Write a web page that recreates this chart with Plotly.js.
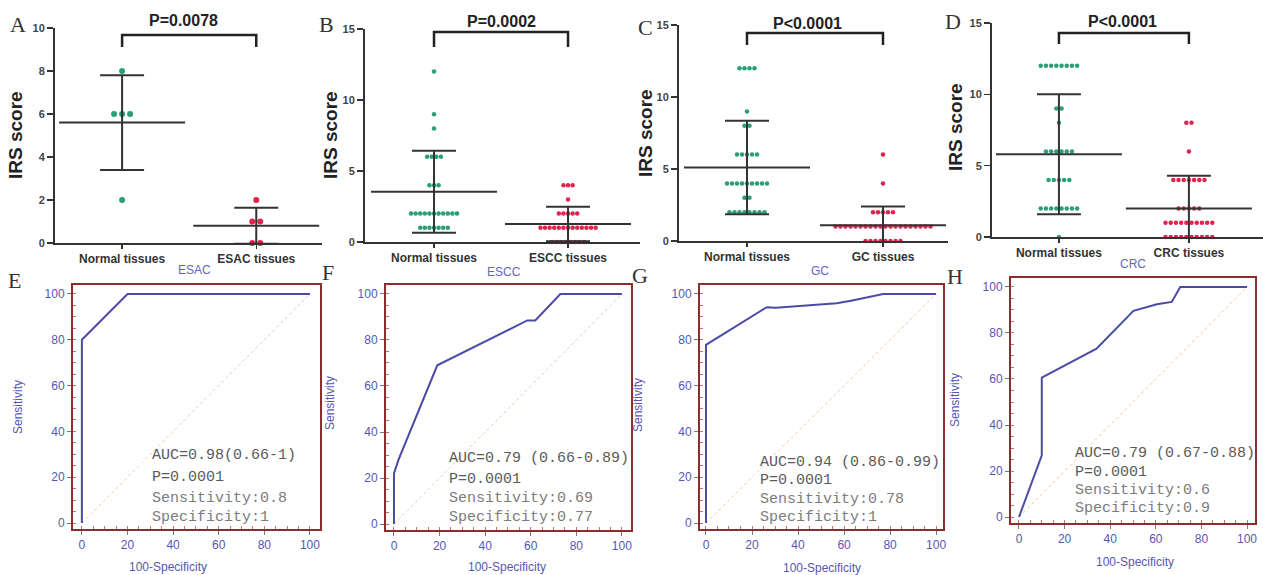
<!DOCTYPE html>
<html>
<head>
<meta charset="utf-8">
<script src="https://cdn.plot.ly/plotly-3.0.1.min.js"></script>
<style>
html, body { margin: 0; padding: 0; background: #fff; }
#chart { width: 1263px; height: 575px; }
</style>
</head>
<body>
<div id="chart"></div>
<script>
// ---------- IRS scores (value levels and number of samples at each level) ----------
const groupTicks = [
  ['Normal tissues', 'ESAC tissues'],
  ['Normal tissues', 'ESCC tissues'],
  ['Normal tissues', 'GC tissues'],
  ['Normal tissues', 'CRC tissues']
];
const pLabels = ['P=0.0078', 'P=0.0002', 'P<0.0001', 'P<0.0001'];

const esacNormalScores = [8, 6, 2];
const esacNormalCounts = [1, 3, 1];
const esacTumorScores  = [2, 1, 0];
const esacTumorCounts  = [1, 2, 2];
const esacMeans = [5.6, 0.8];
const esacSDs   = [2.2, 0.84];

const esccNormalScores = [12, 9, 8, 6, 4, 2, 1];
const esccNormalCounts = [1, 1, 1, 4, 3, 11, 7];
const esccTumorScores  = [4, 3, 2, 1, 0];
const esccTumorCounts  = [3, 1, 5, 13, 8];
const esccMeans = [3.54, 1.27];
const esccSDs   = [2.89, 1.22];

const gcNormalScores = [12, 9, 8, 6, 4, 3, 2];
const gcNormalCounts = [4, 1, 2, 5, 9, 2, 8];
const gcTumorScores  = [6, 4, 2, 1, 0];
const gcTumorCounts  = [1, 1, 5, 20, 8];
const gcMeans = [5.1, 1.1];
const gcSDs   = [3.25, 1.3];

const crcNormalScores = [12, 9, 8, 6, 4, 2, 0];
const crcNormalCounts = [8, 2, 1, 6, 5, 8, 1];
const crcTumorScores  = [8, 6, 4, 2, 1, 0];
const crcTumorCounts  = [2, 1, 7, 5, 10, 10];
const crcMeans = [5.8, 2.0];
const crcSDs   = [4.2, 2.3];

// ---------- ROC curves (100-Specificity vs Sensitivity) ----------
const rocTitles = ['ESAC', 'ESCC', 'GC', 'CRC'];
const esacFpr = [0, 0, 20, 100];
const esacTpr = [0, 80, 100, 100];
const esccFpr = [0, 0, 2, 19, 58.5, 62, 73, 100];
const esccTpr = [0, 22, 28, 69, 88.5, 88.5, 100, 100];
const gcFpr = [0, 0, 26.4, 30.4, 56.8, 63, 77, 100];
const gcTpr = [0, 77.8, 94.2, 94, 95.9, 97, 100, 100];
const crcFpr = [0, 10, 10, 34, 50.2, 60.5, 67, 70.7, 100];
const crcTpr = [0, 26.8, 60.6, 73.2, 89.6, 92.5, 93.5, 100, 100];

const rocStats = [
  ['AUC=0.98(0.66-1)', 'P=0.0001', 'Sensitivity:0.8', 'Specificity:1'],
  ['AUC=0.79 (0.66-0.89)', 'P=0.0001', 'Sensitivity:0.69', 'Specificity:0.77'],
  ['AUC=0.94 (0.86-0.99)', 'P=0.0001', 'Sensitivity:0.78', 'Specificity:1'],
  ['AUC=0.79 (0.67-0.88)', 'P=0.0001', 'Sensitivity:0.6', 'Specificity:0.9']
];

// ---------- page geometry ----------
const W = 1263, H = 575;
const fx = p => p / W;
const fy = p => 1 - p / H;

const scatterPanels = [
  { normal: [esacNormalScores, esacNormalCounts], tumor: [esacTumorScores, esacTumorCounts], means: esacMeans, sds: esacSDs,
    x0: 55, x1: 322, top: 28, bot: 243, ymax: 10, dtick: 2, xr: [-0.5, 1.49], catPx: 134,
    brTop: 35, brBot: 47, pX: 183, pY: 20, tX: 15, tY: 135, letter: 'A', lX: 18, lY: 24, dot: 6, step: 8 },
  { normal: [esccNormalScores, esccNormalCounts], tumor: [esccTumorScores, esccTumorCounts], means: esccMeans, sds: esccSDs,
    x0: 365, x1: 640, top: 29, bot: 242, ymax: 15, dtick: 5, xr: [-0.515, 1.537], catPx: 134,
    brTop: 32, brBot: 47, pX: 502, pY: 22, tX: 330, tY: 135, letter: 'B', lX: 327, lY: 25, dot: 4.5, step: 4.6 },
  { normal: [gcNormalScores, gcNormalCounts], tumor: [gcTumorScores, gcTumorCounts], means: gcMeans, sds: gcSDs,
    x0: 679, x1: 948, top: 25, bot: 241, ymax: 15, dtick: 5, xr: [-0.5, 1.478], catPx: 136,
    brTop: 33, brBot: 45, pX: 807, pY: 23, tX: 645, tY: 133, letter: 'C', lX: 645, lY: 27, dot: 4.5, step: 5 },
  { normal: [crcNormalScores, crcNormalCounts], tumor: [crcTumorScores, crcTumorCounts], means: crcMeans, sds: crcSDs,
    x0: 992, x1: 1263, top: 23, bot: 237, ymax: 15, dtick: 5, xr: [-0.515, 1.57], catPx: 130,
    brTop: 33, brBot: 44, pX: 1122, pY: 22, tX: 955, tY: 127, letter: 'D', lX: 953, lY: 22, dot: 4.5, step: 5.2 }
];

const rocPanels = [
  { fpr: esacFpr, tpr: esacTpr, x0: 73, x1: 320, top: 285, bot: 529, xr: [-3.9, 104.4],
    tX: 150, tY: [455, 477, 498, 517], hX: 195, hY: 270, sX: 18, sY: 407, spX: 168, spY: 567, letter: 'E', lX: 14, lY: 281 },
  { fpr: esccFpr, tpr: esccTpr, x0: 386, x1: 631, top: 285, bot: 530, xr: [-3.5, 104],
    tX: 447, tY: [458, 479, 498, 517], hX: 504, hY: 272, sX: 330, sY: 403, spX: 507, spY: 567, letter: 'F', lX: 328, lY: 272 },
  { fpr: gcFpr, tpr: gcTpr, x0: 700, x1: 943, top: 285, bot: 529, xr: [-2.6, 103],
    tX: 758, tY: [462, 480, 499, 517], hX: 820, hY: 271, sX: 638, sY: 405, spX: 822, spY: 568, letter: 'G', lX: 640, lY: 275 },
  { fpr: crcFpr, tpr: crcTpr, x0: 1011, x1: 1255, top: 278, bot: 523, xr: [-3.5, 103.5],
    tX: 1073, tY: [453, 472, 490, 508], hX: 1133, hY: 264, sX: 955, sY: 400, spX: 1135, spY: 562, letter: 'H', lX: 955, lY: 276 }
];

const NORMAL_COLOR = '#2a9e7a';
const TUMOR_COLOR = '#e2234e';
const BAR_COLOR = '#333333';
const ROC_LINE = '#4b4ba5';
const ROC_BOX = '#8c2c2c';
const ROC_TEXT_BLUE = '#5656b4';

// spread the points of each score level side by side around the group centre
function spreadPoints(scores, counts, centre, stepData) {
  const xs = [], ys = [];
  scores.forEach((v, i) => {
    const n = counts[i];
    for (let k = 0; k < n; k++) {
      xs.push(centre + (k - (n - 1) / 2) * stepData);
      ys.push(v);
    }
  });
  return { xs, ys };
}

const traces = [];
const layout = {
  width: W, height: H,
  margin: { l: 0, r: 0, t: 0, b: 0 },
  paper_bgcolor: '#fff', plot_bgcolor: 'rgba(0,0,0,0)',
  showlegend: false,
  annotations: [], shapes: []
};

scatterPanels.forEach((p, i) => {
  const n = i + 1;
  const xa = 'x' + n, ya = 'y' + n;
  const stepData = p.step / p.catPx;

  [[p.normal, 0, NORMAL_COLOR], [p.tumor, 1, TUMOR_COLOR]].forEach(([grp, c, col]) => {
    const pts = spreadPoints(grp[0], grp[1], c, stepData);
    traces.push({
      type: 'scatter', mode: 'markers', x: pts.xs, y: pts.ys, xaxis: xa, yaxis: ya,
      cliponaxis: false, hoverinfo: 'skip',
      marker: { size: p.dot, color: col, line: { width: 0 } }
    });
  });

  // mean line with SD whiskers
  traces.push({
    type: 'scatter', mode: 'markers', x: [0, 1], y: p.means, xaxis: xa, yaxis: ya,
    cliponaxis: false, hoverinfo: 'skip',
    marker: { symbol: 'line-ew', size: 90, color: BAR_COLOR, line: { width: 2, color: BAR_COLOR } },
    error_y: { type: 'data', array: p.sds, visible: true, color: BAR_COLOR, thickness: 2, width: 22 }
  });

  layout['xaxis' + n] = {
    domain: [fx(p.x0), fx(p.x1)], range: p.xr, anchor: ya,
    showline: true, linecolor: '#333', linewidth: 2,
    tickvals: [0, 1], ticktext: groupTicks[i],
    ticks: 'outside', ticklen: 4, tickwidth: 1.5, tickcolor: '#333',
    tickfont: { family: 'Liberation Sans, Arial, sans-serif', size: 12, color: '#333', weight: 'bold' },
    showgrid: false, zeroline: false, fixedrange: true
  };
  layout['yaxis' + n] = {
    domain: [fy(p.bot), fy(p.top)], range: [0, p.ymax], anchor: xa,
    showline: true, linecolor: '#333', linewidth: 2,
    dtick: p.dtick, ticks: 'outside', ticklen: 6, tickwidth: 1.5, tickcolor: '#333',
    tickfont: { family: 'Liberation Sans, Arial, sans-serif', size: 11, color: '#444', weight: 'bold' },
    showgrid: false, zeroline: false, fixedrange: true
  };

  // significance bracket
  layout.shapes.push({
    type: 'path', xref: xa, yref: 'paper',
    path: `M 0 ${fy(p.brBot)} L 0 ${fy(p.brTop)} L 1 ${fy(p.brTop)} L 1 ${fy(p.brBot)}`,
    line: { color: '#222', width: 2.5 }
  });
  layout.annotations.push({
    xref: 'paper', yref: 'paper', x: fx(p.pX), y: fy(p.pY), xanchor: 'center', yanchor: 'middle',
    text: pLabels[i], showarrow: false,
    font: { family: 'Liberation Sans, Arial, sans-serif', size: 16, color: '#222', weight: 'bold' }
  });
  layout.annotations.push({
    xref: 'paper', yref: 'paper', x: fx(p.tX), y: fy(p.tY), xanchor: 'center', yanchor: 'middle',
    text: 'IRS score', textangle: -90, showarrow: false,
    font: { family: 'Liberation Sans, Arial, sans-serif', size: 19, color: '#222', weight: 'bold' }
  });
  layout.annotations.push({
    xref: 'paper', yref: 'paper', x: fx(p.lX), y: fy(p.lY), xanchor: 'center', yanchor: 'middle',
    text: p.letter, showarrow: false,
    font: { family: 'Liberation Serif, serif', size: 22, color: '#333' }
  });
});

rocPanels.forEach((p, i) => {
  const n = i + 5;
  const xa = 'x' + n, ya = 'y' + n;

  traces.push({
    type: 'scatter', mode: 'lines', x: [0, 100], y: [0, 100], xaxis: xa, yaxis: ya,
    hoverinfo: 'skip', line: { color: '#f2c6a6', width: 1, dash: 'dot' }
  });
  traces.push({
    type: 'scatter', mode: 'lines', x: p.fpr, y: p.tpr, xaxis: xa, yaxis: ya,
    hoverinfo: 'skip', cliponaxis: false, line: { color: ROC_LINE, width: 2 }
  });

  const common = {
    showline: true, linecolor: ROC_BOX, linewidth: 2, mirror: true,
    tickvals: [0, 20, 40, 60, 80, 100],
    ticks: 'outside', ticklen: 4, tickwidth: 1, tickcolor: '#777',
    minor: { ticks: 'inside', dtick: 5, ticklen: 3, tickwidth: 1, tickcolor: '#e06a6a' },
    tickfont: { family: 'Liberation Sans, Arial, sans-serif', size: 12, color: ROC_TEXT_BLUE },
    showgrid: false, zeroline: false, fixedrange: true
  };
  layout['xaxis' + n] = Object.assign({}, common, {
    domain: [fx(p.x0), fx(p.x1)], range: p.xr, anchor: ya
  });
  layout['yaxis' + n] = Object.assign({}, common, {
    domain: [fy(p.bot), fy(p.top)], range: [-2.6, 103.9], anchor: xa
  });

  rocStats[i].forEach((line, k) => {
    layout.annotations.push({
      xref: 'paper', yref: 'paper', x: fx(p.tX), y: fy(p.tY[k]), xanchor: 'left', yanchor: 'middle',
      text: line, showarrow: false,
      font: { family: 'Liberation Mono, monospace', size: 15, color: k < 2 ? '#5a5a5a' : '#7c7c7c' }
    });
  });
  layout.annotations.push({
    xref: 'paper', yref: 'paper', x: fx(p.hX), y: fy(p.hY), xanchor: 'center', yanchor: 'middle',
    text: rocTitles[i], showarrow: false,
    font: { family: 'Liberation Sans, Arial, sans-serif', size: 12, color: '#6464c8' }
  });
  layout.annotations.push({
    xref: 'paper', yref: 'paper', x: fx(p.sX), y: fy(p.sY), xanchor: 'center', yanchor: 'middle',
    text: 'Sensitivity', textangle: -90, showarrow: false,
    font: { family: 'Liberation Sans, Arial, sans-serif', size: 12, color: ROC_TEXT_BLUE }
  });
  layout.annotations.push({
    xref: 'paper', yref: 'paper', x: fx(p.spX), y: fy(p.spY), xanchor: 'center', yanchor: 'middle',
    text: '100-Specificity', showarrow: false,
    font: { family: 'Liberation Sans, Arial, sans-serif', size: 12, color: ROC_TEXT_BLUE }
  });
  layout.annotations.push({
    xref: 'paper', yref: 'paper', x: fx(p.lX), y: fy(p.lY), xanchor: 'center', yanchor: 'middle',
    text: p.letter, showarrow: false,
    font: { family: 'Liberation Serif, serif', size: 22, color: '#333' }
  });
});

Plotly.newPlot('chart', traces, layout, { staticPlot: true, displayModeBar: false });
</script>
</body>
</html>
